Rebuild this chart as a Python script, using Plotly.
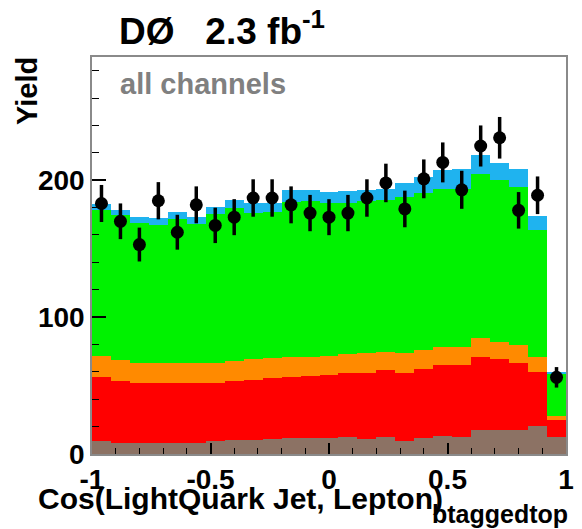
import numpy as np
import plotly.graph_objects as go

# Binning of the angular variable
n_bins = 25
x_min, x_max = -1.0, 1.0

# Observed events per bin
data_counts = [183, 170, 153, 185, 162, 182, 167, 173, 187, 187, 182, 176, 173,
               176, 187, 198, 179, 201, 213, 193, 225, 231, 178, 189, 56]

# Expected yields per bin for each process (stacked bottom to top)
brown_vals = [9.7, 8.3, 7.8, 8.3, 8.3, 8.3, 9.7, 10.2, 10.2, 10.7, 11.4, 11.4, 11.4,
              12.7, 10.7, 12.2, 9.7, 11.4, 13.1, 12.2, 17.5, 17.5, 17.5, 20.4, 12.2]
red_vals = [46.3, 45.2, 44.2, 43.7, 43.3, 43.3, 42.3, 43.1, 43.8, 44.5, 45.0, 45.5, 46.3,
            46.7, 48.7, 49.1, 49.7, 50.4, 51.9, 52.8, 53.1, 51.6, 48.7, 39.7, 12.6]
orange_vals = [15.5, 15.1, 14.2, 14.7, 15.1, 14.6, 14.7, 14.8, 15.1, 14.6, 14.6, 14.1, 13.8,
               13.3, 14.1, 13.4, 14.5, 14.1, 13.3, 13.3, 13.8, 12.9, 13.4, 10.9, 3.2]
green_vals = [107.1, 105.9, 102.4, 100.8, 105.3, 101.6, 108.8, 111.4, 107.0, 107.1, 113.2,
              113.7, 111.5, 110.7, 111.2, 110.7, 113.7, 114.4, 115.2, 115.6, 120.5, 118.0,
              115.1, 92.3, 30.9]
blue_vals = [3.9, 4.1, 4.6, 4.8, 4.5, 5.4, 5.2, 5.9, 7.6, 6.6, 8.5, 7.8, 8.5,
             8.8, 8.0, 8.5, 10.4, 12.3, 13.8, 14.6, 13.6, 12.6, 13.6, 10.5, 1.1]

x_tick_vals = [-1, -0.5, 0, 0.5, 1]
x_tick_text = ["-1", "-0.5", "0", "0.5", "1"]
y_tick_vals = [0, 100, 200]
y_tick_text = ["0", "100", "200"]

edges = np.linspace(x_min, x_max, n_bins + 1)
centers = 0.5 * (edges[:-1] + edges[1:])
bin_width = edges[1] - edges[0]

FONT = "Liberation Sans"
NBSP = "\u00a0"

stack = [
    (brown_vals, "#8c7264"),
    (red_vals, "#ff0000"),
    (orange_vals, "#ff8a00"),
    (green_vals, "#00f200"),
    (blue_vals, "#1fb3ef"),
]

fig = go.Figure()
for vals, color in stack:
    fig.add_trace(go.Bar(
        x=centers, y=vals, width=bin_width,
        marker=dict(color=color, line=dict(width=0)),
        showlegend=False, hoverinfo="skip",
    ))

# Data points with Poisson uncertainties
fig.add_trace(go.Scatter(
    x=centers, y=data_counts, mode="markers",
    marker=dict(color="black", size=13, symbol="circle"),
    error_y=dict(type="data", array=np.sqrt(data_counts), color="black",
                 thickness=3.5, width=0),
    showlegend=False, hoverinfo="skip",
))

fig.update_layout(
    width=582, height=529,
    margin=dict(l=92, r=8, t=57, b=75),
    paper_bgcolor="white", plot_bgcolor="white",
    barmode="stack", bargap=0,
    font=dict(family=FONT, color="black"),
    xaxis=dict(
        range=[x_min, x_max], tickvals=x_tick_vals, ticktext=x_tick_text,
        ticks="inside", ticklen=11, tickwidth=1.5, tickcolor="black",
        minor=dict(dtick=0.1, ticks="inside", ticklen=6, tickwidth=1.2, tickcolor="black"),
        showline=True, mirror=True, linecolor="#8a8a8a", linewidth=1.5,
        showgrid=False, zeroline=False,
        tickfont=dict(family=FONT, size=28, weight="bold", color="black"),
    ),
    yaxis=dict(
        range=[0, 290], tickvals=y_tick_vals, ticktext=y_tick_text,
        ticks="inside", ticklen=14, tickwidth=1.5, tickcolor="black",
        minor=dict(dtick=20, ticks="inside", ticklen=7, tickwidth=1.2, tickcolor="black"),
        showline=True, mirror=True, linecolor="#8a8a8a", linewidth=1.5,
        showgrid=False, zeroline=False,
        tickfont=dict(family=FONT, size=28, weight="bold", color="black"),
    ),
    annotations=[
        dict(text=f"DØ{NBSP}{NBSP}{NBSP}2.3{NBSP}fb<sup>-1</sup>", xref="paper", yref="paper",
             x=0.052, y=1.072, xanchor="left", yanchor="middle", showarrow=False,
             font=dict(family=FONT, size=37, weight="bold", color="black")),
        dict(text="all channels", xref="paper", yref="paper",
             x=0.054, y=0.932, xanchor="left", yanchor="middle", showarrow=False,
             font=dict(family=FONT, size=29, weight="bold", color="#808080")),
        dict(text="Yield", xref="paper", yref="paper", textangle=-90,
             x=-0.137, y=1.005, xanchor="center", yanchor="top", showarrow=False,
             font=dict(family=FONT, size=29, weight="bold", color="black")),
        dict(text="Cos(LightQuark Jet, Lepton)",
             xref="paper", yref="paper", x=-0.118, y=-0.112,
             xanchor="left", yanchor="middle", showarrow=False,
             font=dict(family=FONT, size=30, weight="bold", color="black")),
        dict(text="btaggedtop",
             xref="paper", yref="paper", x=1.008, y=-0.152,
             xanchor="right", yanchor="middle", showarrow=False,
             font=dict(family=FONT, size=25, weight="bold", color="black")),
    ],
)

fig.write_html("out.html")
